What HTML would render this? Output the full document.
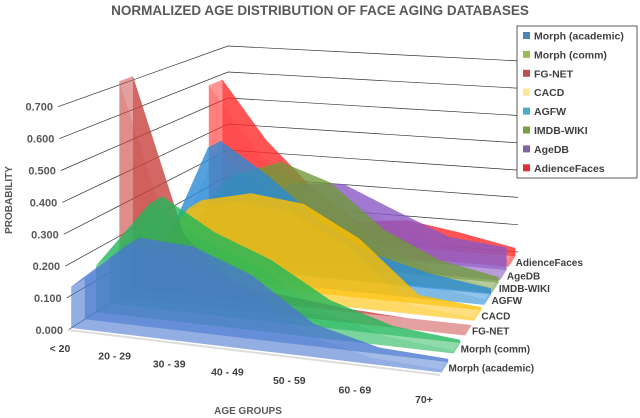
<!DOCTYPE html>
<html><head><meta charset="utf-8"><style>
body{margin:0;background:#fff;}
svg{display:block;font-family:"Liberation Sans",sans-serif;}
</style></head><body>
<svg id="chart" width="640" height="418" viewBox="0 0 640 418">
<text x="320" y="15" text-anchor="middle" font-size="13.5" font-weight="bold" fill="#595959">NORMALIZED AGE DISTRIBUTION OF FACE AGING DATABASES</text>
<text transform="translate(12,200) rotate(-90)" text-anchor="middle" font-size="10" font-weight="bold" fill="#595959">PROBABILITY</text>
<text x="248" y="414" text-anchor="middle" font-size="10" font-weight="bold" fill="#595959">AGE GROUPS</text>
<g id="grid"></g><g id="series"></g><g id="labels"></g>
<g>
<rect x="517" y="26" width="120" height="152" fill="#fff" stroke="#333" stroke-width="0.8"/>
<g id="legend"></g></g>
</svg>
<script>
const categories = ["< 20","20 - 29","30 - 39","40 - 49","50 - 59","60 - 69","70+"];
const seriesNames = ["Morph (academic)","Morph (comm)","FG-NET","CACD","AGFW","IMDB-WIKI","AgeDB","AdienceFaces"];
const morphAcademic = [0.13,0.28,0.27,0.20,0.07,0.02,0.01];
const morphComm = [0.15,0.37,0.27,0.20,0.09,0.03,0.01];
const fgnet = [0.72,0.20,0.05,0.03,0.01,0.00,0.00];
const cacd = [0.04,0.28,0.32,0.30,0.20,0.03,0.01];
const agfw = [0.05,0.45,0.34,0.20,0.10,0.05,0.02];
const imdbWiki = [0.03,0.30,0.36,0.30,0.15,0.06,0.02];
const ageDb = [0.03,0.17,0.25,0.26,0.18,0.10,0.08];
const adience = [0.58,0.36,0.20,0.08,0.10,0.07,0.03];
const yTicks = [0,0.1,0.2,0.3,0.4,0.5,0.6,0.7];
const yTickLabels = ["0.000","0.100","0.200","0.300","0.400","0.500","0.600","0.700"];
const allSeries=[morphAcademic,morphComm,fgnet,cacd,agfw,imdbWiki,ageDb,adience];
const colors=["#4a78d0","#22b85a","#c8413e","#ffc000","#2a8ad6","#6f9a3c","#8a58c4","#ff2a2a"];
const swatch=["#4f81bd","#9bbb59","#c0504d","#ffe699","#4bacc6","#77a043","#8064a2","#e03030"];
const NS="http://www.w3.org/2000/svg";
const laneU=[0,.18,.35,.49,.64,.75,.87,1].map(f=>0.02+0.86*f);
const catV=[0,.15,.3,.46,.63,.81,1];
const lerp=(a,b,t)=>a+(b-a)*t;
function floor(u,v){
  const fx=lerp(68,440,v),fy=lerp(330,375,v),bx=lerp(228,518,v),by=lerp(228,252,v);
  return [lerp(fx,bx,u),lerp(fy,by,u)];
}
function scale(u,v){return lerp(lerp(319,330,v),lerp(260,273,v),u);}
function pt(u,v,val){const p=floor(u,v);return [p[0],p[1]-val*scale(u,v)];}
function el(tag,attrs,parent){const e=document.createElementNS(NS,tag);for(const k in attrs)e.setAttribute(k,attrs[k]);parent.appendChild(e);return e;}
const grid=document.getElementById('grid');
yTicks.forEach((k,i)=>{
  const a=[68-10*k/0.7,330-319*k],b=[228,228-260*k],c=[518,252-273*k];
  const pl=el('polyline',{points:[a,b,c].map(p=>p.join(',')).join(' '),fill:'none',stroke:'#333','stroke-width':0.7},grid);
  
  
  const t=el('text',{x:a[0]-5,y:a[1]+4,'text-anchor':'end','font-size':11,'font-weight':'bold',fill:'#595959'},grid);
  t.textContent=yTickLabels[i];
  
  
});
const fl=el('polyline',{points:[floor(0,0),floor(0,1)].map(p=>p.join(',')).join(' '),fill:'none',stroke:'#ddd','stroke-width':2},grid);


const sg=document.getElementById('series'),lg=document.getElementById('labels');
const D=0.085;
for(let s=7;s>=0;s--){
  const vals=allSeries[s],u0=laneU[s],u1=u0+D;
  const g=el('g',{fill:colors[s],'fill-opacity':0.6},sg);
  
  
  const face=u=>{const top=vals.map((v,j)=>pt(u,catV[j],v));const bot=catV.map(v=>floor(u,v)).reverse();return top.concat(bot).map(p=>p.join(',')).join(' ');};
  el('polygon',{points:face(u1)},g);
  for(let j=0;j<6;j++){
    const q=[pt(u0,catV[j],vals[j]),pt(u0,catV[j+1],vals[j+1]),pt(u1,catV[j+1],vals[j+1]),pt(u1,catV[j],vals[j])];
    el('polygon',{points:q.map(p=>p.join(',')).join(' '),'fill-opacity':0.5},g);
  }
  const endq=[floor(u0,1),pt(u0,1,vals[6]),pt(u1,1,vals[6]),floor(u1,1)];
  el('polygon',{points:endq.map(p=>p.join(',')).join(' ')},g);
  el('polygon',{points:face(u0)},g);
  const e=floor(u0,1);
  const t=el('text',{x:e[0]+7,y:e[1]-1,'font-size':10,'font-weight':'bold',fill:'#404040'},lg);
  t.textContent=seriesNames[s];
  
  
}
categories.forEach((c,j)=>{
  const p=floor(0,catV[j]);
  const t=el('text',{x:p[0]+lerp(-8,-16,catV[j]),y:p[1]+lerp(22,28,catV[j]),'text-anchor':'middle','font-size':10.5,'font-weight':'bold',fill:'#404040'},lg);
  t.textContent=c;
  
  
});
const leg=document.getElementById('legend');
seriesNames.forEach((n,i)=>{
  const y=36+i*18.9;
  const r=el('rect',{x:523,y:y-4,width:7,height:7,fill:swatch[i]},leg);
  
  
  const t=el('text',{x:534,y:y+3.5,'font-size':10.5,'font-weight':'bold',fill:'#404040'},leg);
  t.textContent=n;
  
  
});
</script>
</body></html>
